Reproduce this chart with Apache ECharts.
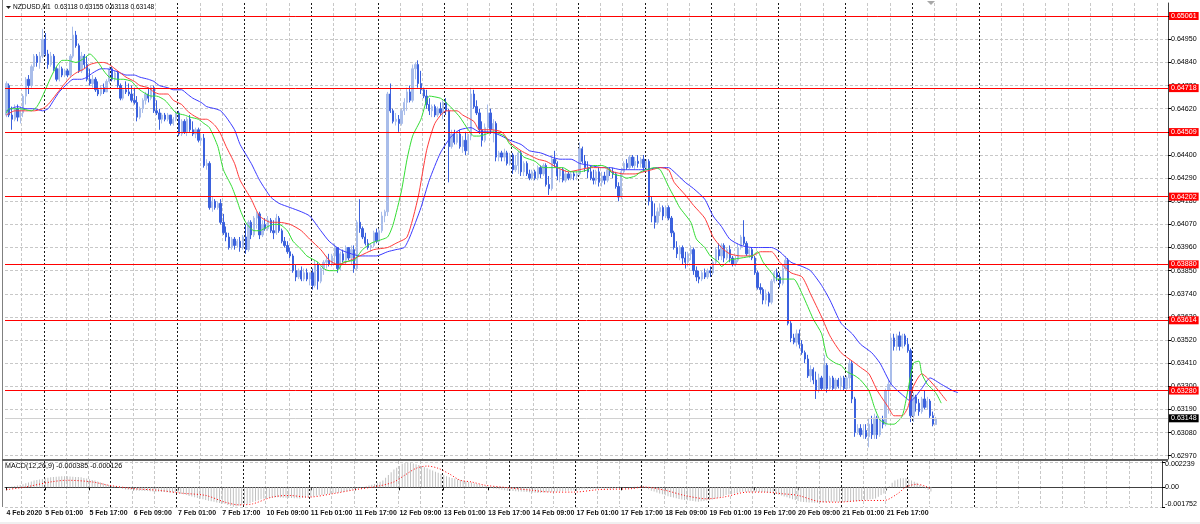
<!DOCTYPE html>
<html><head><meta charset="utf-8">
<script src="https://cdn.jsdelivr.net/npm/echarts@6/dist/echarts.min.js"></script>
<style>html,body{margin:0;padding:0;background:#fff}#c{width:1200px;height:524px}</style>
</head><body><div id="c"></div>
<script>
// ---- time axis ----
const slotCount = 418;
const tickLabels = ['4 Feb 2020','5 Feb 01:00','5 Feb 17:00','6 Feb 09:00','7 Feb 01:00','7 Feb 17:00','10 Feb 09:00','11 Feb 01:00','11 Feb 17:00','12 Feb 09:00','13 Feb 01:00','13 Feb 17:00','14 Feb 09:00','17 Feb 01:00','17 Feb 17:00','18 Feb 09:00','19 Feb 01:00','19 Feb 17:00','20 Feb 09:00','21 Feb 01:00','21 Feb 17:00'];
const tickLabelIndex = [0,14,30,46,62,78,94,110,126,142,158,174,190,206,222,238,254,270,286,302,318];
const separatorIndex = [14,38,62,86,110,134,158,182,206,230,254,278,302,326,350];

// ---- price axis ----
const priceTicks = [0.62970,0.63080,0.63190,0.63300,0.63410,0.63520,0.63630,0.63740,0.63850,0.63960,0.64070,0.64180,0.64290,0.64400,0.64510,0.64620,0.64730,0.64840,0.64950,0.65060];
const levelLines = [0.65061,0.64718,0.64509,0.64202,0.63880,0.63614,0.63280];
const lastPrice = 0.63148;
const trendLine = [[0,0.64265],[177,0.62954]];

// ---- candles (H1) ----
const opens = [
.6459,.6473,.6459,.6457,.6462,.6458,.6460,.6468,.6476,.6473,
.6482,.6487,.6484,.6487,.6495,.6488,.6483,.6487,.6481,.6476,
.6481,.6478,.6480,.6478,.6487,.6497,.6492,.6480,.6487,.6483,
.6476,.6474,.6476,.6471,.6469,.6472,.6470,.6475,.6481,.6476,
.6479,.6473,.6467,.6471,.6470,.6469,.6466,.6465,.6458,.6462,
.6466,.6469,.6467,.6472,.6461,.6460,.6457,.6459,.6457,.6459,
.6455,.6457,.6460,.6450,.6456,.6451,.6457,.6452,.6450,.6452,
.6447,.6448,.6435,.6436,.6415,.6418,.6415,.6417,.6408,.6403,
.6401,.6396,.6400,.6397,.6399,.6396,.6401,.6395,.6408,.6402,
.6410,.6412,.6402,.6407,.6405,.6409,.6404,.6403,.6410,.6404,
.6399,.6397,.6394,.6392,.6385,.6382,.6385,.6381,.6384,.6381,
.6384,.6378,.6388,.6380,.6386,.6389,.6390,.6388,.6392,.6396,
.6386,.6393,.6390,.6396,.6391,.6395,.6386,.6408,.6405,.6401,
.6398,.6396,.6397,.6403,.6399,.6404,.6411,.6413,.6469,.6461,
.6456,.6457,.6455,.6461,.6465,.6470,.6466,.6481,.6483,.6474,
.6471,.6468,.6464,.6461,.6463,.6459,.6462,.6460,.6465,.6461,
.6444,.6450,.6446,.6450,.6444,.6447,.6442,.6449,.6469,.6463,
.6460,.6452,.6447,.6453,.6460,.6452,.6455,.6439,.6441,.6439,
.6441,.6436,.6440,.6433,.6435,.6441,.6432,.6436,.6431,.6429,
.6432,.6429,.6434,.6431,.6435,.6426,.6424,.6438,.6436,.6430,
.6433,.6428,.6431,.6429,.6431,.6430,.6431,.6443,.6437,.6434,
.6432,.6429,.6428,.6432,.6427,.6430,.6428,.6433,.6432,.6431,
.6425,.6420,.6432,.6436,.6434,.6439,.6435,.6437,.6436,.6438,
.6434,.6437,.6418,.6411,.6408,.6413,.6415,.6411,.6415,.6410,
.6403,.6396,.6393,.6396,.6391,.6389,.6393,.6395,.6385,.6382,
.6381,.6384,.6382,.6385,.6384,.6389,.6395,.6392,.6397,.6391,
.6395,.6391,.6388,.6390,.6396,.6401,.6398,.6393,.6395,.6391,
.6384,.6377,.6376,.6371,.6374,.6370,.6380,.6384,.6382,.6379,
.6386,.6390,.6360,.6353,.6351,.6355,.6350,.6346,.6343,.6335,
.6338,.6333,.6328,.6334,.6329,.6340,.6329,.6334,.6329,.6333,
.6330,.6334,.6329,.6334,.6341,.6324,.6308,.6310,.6307,.6309,
.6306,.6312,.6307,.6315,.6307,.6314,.6312,.6328,.6331,.6353,
.6349,.6354,.6349,.6354,.6350,.6347,.6316,.6325,.6322,.6318,
.6324,.6320,.6323,.6316,.63118];
const highs = [
.6475,.6474,.6463,.6464,.6464,.6463,.6469,.6477,.6478,.6483,
.6488,.6488,.6489,.6500,.6498,.6490,.6489,.6488,.6482,.6483,
.6482,.6481,.6481,.6488,.6501,.6499,.6493,.6489,.6488,.6487,
.6481,.6478,.6477,.6475,.6473,.6474,.6476,.6482,.6482,.6480,
.6480,.6474,.6472,.6475,.6474,.6473,.6472,.6468,.6463,.6467,
.6470,.6472,.6473,.6473,.6466,.6462,.6460,.6460,.6460,.6459,
.6458,.6461,.6461,.6457,.6457,.6458,.6459,.6456,.6453,.6453,
.6449,.6450,.6438,.6437,.6420,.6419,.6418,.6419,.6412,.6406,
.6403,.6401,.6401,.6400,.6401,.6402,.6407,.6409,.6409,.6411,
.6413,.6413,.6409,.6410,.6411,.6410,.6409,.6412,.6411,.6405,
.6401,.6399,.6396,.6393,.6388,.6386,.6387,.6386,.6386,.6384,
.6386,.6390,.6389,.6387,.6390,.6392,.6393,.6393,.6398,.6396,
.6394,.6395,.6397,.6396,.6397,.6397,.6409,.6419,.6406,.6403,
.6400,.6398,.6404,.6405,.6405,.6413,.6414,.6470,.6474,.6462,
.6460,.6459,.6462,.6467,.6472,.6473,.6483,.6484,.6485,.6480,
.6472,.6471,.6467,.6464,.6464,.6463,.6465,.6466,.6467,.6462,
.6452,.6452,.6451,.6452,.6449,.6451,.6450,.6472,.6471,.6466,
.6462,.6456,.6455,.6464,.6462,.6457,.6456,.6442,.6442,.6443,
.6442,.6441,.6441,.6440,.6442,.6442,.6437,.6437,.6433,.6433,
.6433,.6435,.6435,.6436,.6436,.6430,.6440,.6442,.6437,.6434,
.6434,.6433,.6432,.6432,.6432,.6432,.6446,.6444,.6440,.6437,
.6435,.6433,.6433,.6434,.6432,.6432,.6434,.6434,.6434,.6432,
.6427,.6434,.6437,.6438,.6440,.6440,.6439,.6440,.6439,.6440,
.6438,.6438,.6420,.6417,.6415,.6417,.6416,.6416,.6416,.6411,
.6404,.6399,.6397,.6397,.6394,.6394,.6397,.6396,.6387,.6385,
.6385,.6386,.6386,.6387,.6390,.6396,.6398,.6398,.6398,.6396,
.6397,.6392,.6392,.6398,.6402,.6409,.6399,.6396,.6396,.6392,
.6385,.6379,.6377,.6376,.6375,.6381,.6385,.6386,.6384,.6388,
.6392,.6391,.6361,.6355,.6357,.6357,.6352,.6347,.6345,.6340,
.6339,.6337,.6336,.6335,.6345,.6341,.6335,.6335,.6334,.6334,
.6335,.6335,.6335,.6343,.6342,.6325,.6312,.6312,.6312,.6312,
.6315,.6316,.6317,.6316,.6315,.6316,.6329,.6333,.6355,.6355,
.6355,.6356,.6355,.6355,.6353,.6348,.6327,.6326,.6324,.6325,
.6328,.6325,.6324,.6318,.63155];
const lows = [
.6458,.6458,.6452,.6456,.6456,.6455,.6458,.6464,.6469,.6472,
.6480,.6482,.6481,.6486,.6487,.6481,.6482,.6480,.6475,.6475,
.6477,.6477,.6477,.6477,.6486,.6491,.6479,.6479,.6481,.6475,
.6473,.6472,.6470,.6468,.6468,.6469,.6470,.6474,.6475,.6475,
.6472,.6466,.6466,.6469,.6468,.6465,.6464,.6456,.6457,.6460,
.6464,.6465,.6466,.6460,.6459,.6452,.6455,.6456,.6456,.6454,
.6454,.6456,.6449,.6449,.6450,.6449,.6451,.6449,.6448,.6446,
.6445,.6434,.6433,.6414,.6413,.6414,.6414,.6407,.6402,.6399,
.6395,.6395,.6395,.6396,.6394,.6395,.6393,.6394,.6400,.6401,
.6405,.6400,.6401,.6404,.6404,.6403,.6400,.6402,.6403,.6398,
.6396,.6393,.6391,.6384,.6380,.6381,.6380,.6380,.6380,.6378,
.6376,.6377,.6376,.6379,.6383,.6386,.6387,.6387,.6388,.6384,
.6385,.6389,.6388,.6390,.6388,.6384,.6385,.6403,.6400,.6397,
.6395,.6394,.6396,.6398,.6398,.6403,.6408,.6411,.6460,.6455,
.6454,.6451,.6454,.6459,.6461,.6465,.6465,.6476,.6472,.6469,
.6467,.6462,.6459,.6458,.6458,.6458,.6459,.6457,.6459,.6427,
.6443,.6445,.6445,.6443,.6441,.6440,.6440,.6447,.6462,.6459,
.6450,.6444,.6446,.6451,.6450,.6446,.6437,.6437,.6437,.6437,
.6435,.6435,.6431,.6432,.6431,.6430,.6430,.6430,.6428,.6428,
.6428,.6428,.6429,.6430,.6425,.6421,.6423,.6434,.6428,.6427,
.6427,.6427,.6428,.6428,.6428,.6428,.6430,.6436,.6432,.6429,
.6428,.6426,.6426,.6425,.6425,.6426,.6427,.6430,.6429,.6424,
.6418,.6419,.6431,.6433,.6433,.6434,.6433,.6434,.6434,.6432,
.6433,.6416,.6408,.6405,.6407,.6411,.6409,.6410,.6409,.6401,
.6395,.6391,.6390,.6388,.6386,.6387,.6390,.6383,.6380,.6379,
.6380,.6381,.6381,.6382,.6383,.6388,.6390,.6390,.6389,.6390,
.6389,.6387,.6387,.6389,.6395,.6397,.6392,.6391,.6390,.6383,
.6376,.6374,.6369,.6369,.6368,.6369,.6379,.6380,.6377,.6378,
.6385,.6359,.6351,.6350,.6349,.6348,.6345,.6341,.6334,.6332,
.6331,.6324,.6327,.6328,.6328,.6327,.6328,.6328,.6328,.6329,
.6328,.6328,.6328,.6329,.6322,.6306,.6307,.6306,.6305,.6305,
.6301,.6305,.6305,.6305,.6306,.6310,.6311,.6317,.6330,.6347,
.6347,.6347,.6348,.6349,.6346,.6313,.6313,.6318,.6316,.6317,
.6319,.6319,.6315,.6311,.63118];
const closes = [
.6474,.6459,.6457,.6462,.6458,.6461,.6468,.6476,.6473,.6482,
.6487,.6484,.6487,.6495,.6488,.6483,.6487,.6481,.6476,.6481,
.6478,.6480,.6478,.6487,.6497,.6492,.6480,.6487,.6483,.6476,
.6474,.6476,.6471,.6469,.6472,.6470,.6475,.6481,.6476,.6479,
.6473,.6467,.6471,.6470,.6469,.6466,.6465,.6458,.6462,.6466,
.6469,.6467,.6472,.6461,.6460,.6457,.6459,.6457,.6459,.6455,
.6457,.6460,.6450,.6456,.6451,.6457,.6452,.6450,.6452,.6447,
.6448,.6435,.6436,.6415,.6418,.6415,.6417,.6408,.6403,.6401,
.6396,.6400,.6397,.6399,.6396,.6401,.6395,.6408,.6402,.6410,
.6412,.6402,.6407,.6405,.6409,.6404,.6403,.6410,.6404,.6399,
.6397,.6394,.6392,.6385,.6382,.6385,.6381,.6384,.6381,.6384,
.6378,.6388,.6380,.6386,.6389,.6390,.6388,.6392,.6396,.6386,
.6393,.6390,.6396,.6391,.6395,.6386,.6408,.6405,.6401,.6398,
.6396,.6397,.6403,.6399,.6404,.6411,.6413,.6469,.6461,.6456,
.6457,.6455,.6461,.6465,.6470,.6466,.6481,.6483,.6474,.6471,
.6468,.6464,.6461,.6463,.6459,.6462,.6460,.6465,.6461,.6444,
.6450,.6446,.6450,.6444,.6447,.6442,.6449,.6469,.6463,.6460,
.6452,.6447,.6453,.6460,.6452,.6455,.6439,.6441,.6439,.6441,
.6436,.6440,.6433,.6435,.6441,.6432,.6436,.6431,.6429,.6432,
.6429,.6434,.6431,.6435,.6426,.6424,.6438,.6436,.6430,.6433,
.6428,.6431,.6429,.6431,.6430,.6431,.6443,.6437,.6434,.6432,
.6429,.6428,.6432,.6427,.6430,.6428,.6433,.6432,.6431,.6425,
.6420,.6432,.6436,.6434,.6439,.6435,.6437,.6436,.6438,.6434,
.6437,.6418,.6411,.6408,.6413,.6415,.6411,.6415,.6410,.6403,
.6396,.6393,.6396,.6391,.6389,.6393,.6395,.6385,.6382,.6381,
.6384,.6382,.6385,.6384,.6389,.6395,.6392,.6397,.6391,.6395,
.6391,.6388,.6390,.6396,.6401,.6398,.6393,.6395,.6391,.6384,
.6377,.6376,.6371,.6374,.6370,.6380,.6384,.6382,.6379,.6386,
.6390,.6360,.6353,.6351,.6355,.6350,.6346,.6343,.6335,.6338,
.6333,.6328,.6334,.6329,.6340,.6329,.6334,.6329,.6333,.6330,
.6334,.6329,.6334,.6341,.6324,.6308,.6310,.6307,.6309,.6306,
.6312,.6307,.6315,.6307,.6314,.6312,.6328,.6331,.6353,.6349,
.6354,.6349,.6354,.6350,.6347,.6316,.6325,.6322,.6318,.6324,
.6320,.6323,.6316,.6312,.63148];

// ---- Alligator lines ([bar, price]) ----
const jawLine = [[0,.6461],[4,.6463],[7,.6462],[10,.6462],[13,.6461],[15,.6462],[17,.6466],[19,.6470],[22,.6474],[24,.6476],[27,.6476],[29,.6477],[31,.6479],[34,.6481],[36,.6481],[39,.6480],[41,.6479],[43,.6478],[46,.6478],[48,.6477],[51,.6476],[53,.6475],[55,.6473],[58,.6472],[60,.6471],[63,.6471],[65,.6469],[67,.6467],[70,.6465],[72,.6463],[75,.6462],[77,.6461],[79,.6458],[82,.6452],[84,.6445],[88,.6436],[91,.6428],[95,.6420],[98,.6417],[102,.6415],[106,.6413],[109,.6411],[113,.6404],[116,.6399],[120,.6395],[124,.6393],[127,.6392],[131,.6392],[133,.6392],[137,.6394],[140,.6395],[143,.6396],[145,.6401],[149,.6415],[152,.6428],[156,.6441],[160,.6449],[163,.6452],[167,.6453],[170,.6451],[174,.6451],[178,.6449],[181,.6447],[185,.6445],[188,.6442],[192,.6441],[196,.6439],[199,.6438],[203,.6438],[206,.6436],[210,.6435],[214,.6434],[217,.6434],[221,.6433],[224,.6433],[228,.6433],[230,.6433],[234,.6434],[238,.6434],[240,.6432],[244,.6427],[247,.6424],[251,.6419],[254,.6411],[257,.6406],[260,.6400],[264,.6397],[268,.6396],[271,.6396],[275,.6396],[278,.6394],[282,.6389],[286,.6387],[289,.6385],[293,.6378],[296,.6371],[300,.6360],[304,.6355],[307,.6350],[311,.6346],[314,.6341],[318,.6331],[322,.6326],[325,.6323],[329,.6329],[332,.6334],[336,.6331],[340,.6328],[342,.6327]];
const teethLine = [[0,.6459],[3,.6461],[6,.6461],[10,.6461],[13,.6462],[15,.6464],[18,.6469],[21,.6474],[23,.6477],[25,.6479],[28,.6481],[30,.6483],[33,.6484],[35,.6484],[37,.6483],[39,.6481],[41,.6479],[43,.6477],[46,.6475],[48,.6473],[51,.6472],[53,.6470],[55,.6469],[58,.6469],[60,.6466],[63,.6464],[65,.6461],[67,.6459],[70,.6457],[72,.6457],[75,.6454],[77,.6450],[79,.6444],[82,.6436],[84,.6428],[88,.6419],[91,.6411],[95,.6408],[98,.6408],[102,.6407],[106,.6404],[109,.6400],[113,.6395],[116,.6390],[119,.6388],[122,.6389],[127,.6392],[132,.6395],[137,.6396],[140,.6398],[144,.6401],[148,.6420],[151,.6442],[154,.6455],[158,.6461],[162,.6461],[164,.6459],[168,.6456],[170,.6452],[174,.6452],[178,.6451],[181,.6446],[185,.6442],[191,.6438],[194,.6437],[198,.6434],[202,.6432],[206,.6433],[210,.6434],[215,.6434],[218,.6432],[222,.6431],[226,.6431],[229,.6432],[232,.6433],[235,.6434],[238,.6433],[240,.6427],[244,.6421],[247,.6416],[251,.6410],[254,.6401],[257,.6396],[260,.6393],[264,.6392],[268,.6392],[271,.6394],[275,.6394],[278,.6389],[282,.6384],[286,.6382],[289,.6374],[293,.6363],[296,.6354],[300,.6346],[304,.6342],[307,.6339],[310,.6336],[313,.6328],[317,.6320],[319,.6316],[322,.6316],[324,.6320],[326,.6330],[329,.6336],[331,.6334],[335,.6328],[338,.6323]];
const lipsLine = [[0,.6460],[1,.6462],[5,.6462],[9,.6461],[11,.6463],[13,.6468],[16,.6477],[18,.6482],[20,.6485],[22,.6485],[25,.6484],[28,.6486],[30,.6488],[33,.6484],[35,.6480],[37,.6477],[40,.6476],[42,.6476],[45,.6475],[47,.6472],[49,.6470],[52,.6468],[54,.6468],[57,.6466],[59,.6463],[61,.6460],[64,.6459],[66,.6458],[69,.6457],[71,.6455],[73,.6453],[76,.6444],[78,.6433],[81,.6425],[83,.6418],[84,.6414],[86,.6408],[89,.6404],[91,.6404],[94,.6406],[96,.6407],[98,.6407],[101,.6404],[103,.6399],[106,.6395],[108,.6392],[112,.6389],[114,.6386],[116,.6385],[119,.6385],[121,.6389],[125,.6390],[128,.6395],[131,.6398],[133,.6399],[137,.6401],[139,.6407],[142,.6423],[144,.6438],[146,.6449],[149,.6457],[151,.6466],[152,.6468],[156,.6467],[158,.6465],[161,.6461],[163,.6458],[166,.6452],[168,.6449],[170,.6449],[175,.6451],[179,.6449],[181,.6445],[184,.6442],[186,.6439],[190,.6437],[193,.6434],[197,.6434],[200,.6434],[203,.6432],[206,.6432],[209,.6433],[211,.6435],[214,.6435],[216,.6434],[218,.6431],[221,.6430],[223,.6429],[226,.6430],[228,.6432],[230,.6433],[233,.6434],[235,.6433],[238,.6425],[240,.6420],[242,.6415],[246,.6408],[248,.6400],[251,.6396],[253,.6392],[256,.6389],[257,.6387],[260,.6390],[264,.6391],[268,.6392],[270,.6394],[272,.6389],[275,.6384],[277,.6381],[281,.6381],[283,.6381],[286,.6374],[288,.6368],[290,.6362],[293,.6355],[295,.6344],[298,.6341],[300,.6340],[302,.6337],[305,.6335],[307,.6333],[310,.6328],[312,.6320],[314,.6314],[317,.6312],[319,.6312],[322,.6316],[324,.6328],[326,.6341],[328,.6342],[329,.6336],[331,.6331],[334,.6327],[336,.6322]];

// ---- MACD(12,26,9) ----
const macdMain = [
0,.00004,.00008,.00012,.00016,.0002,.00028,.00036,.00044,.00052,
.0006,.00065,.0007,.00075,.0008,.00085,.0009,.00092,.00094,.00096,
.00098,.001,.00098,.00097,.00095,.00093,.00092,.0009,.00084,.00078,
.00072,.00066,.0006,.00052,.00044,.00036,.00028,.0002,.00013,.00007,
0,-.00007,-.00013,-.0002,-.00022,-.00024,-.00026,-.00028,-.0003,-.00031,
-.00033,-.00034,-.00036,-.00037,-.00039,-.0004,-.00041,-.00043,-.00044,-.00046,
-.00047,-.00049,-.0005,-.00057,-.00063,-.0007,-.00077,-.00083,-.0009,-.00096,
-.00102,-.00108,-.00114,-.0012,-.00125,-.0013,-.00135,-.0014,-.00145,-.0015,
-.00158,-.00166,-.00175,-.0017,-.00165,-.0016,-.00155,-.0015,-.0014,-.00132,
-.00124,-.00116,-.00108,-.001,-.00098,-.00096,-.00094,-.00092,-.0009,-.00091,
-.00093,-.00094,-.00095,-.00096,-.00098,-.00099,-.001,-.00096,-.00092,-.00088,
-.00084,-.0008,-.00076,-.00072,-.00068,-.00064,-.0006,-.00057,-.00053,-.0005,
-.00047,-.00043,-.0004,-.00034,-.00028,-.00022,-.00016,-.0001,-.00003,.00003,
.0001,.00017,.00023,.0003,.0004,.0005,.0006,.00085,.0011,.00135,
.0016,.00175,.0019,.0021,.00218,.002239,.00218,.00212,.00206,.002,
.0019,.0018,.0017,.0016,.0015,.0014,.0013,.0012,.0011,.001,
.0009,.00084,.00078,.00072,.00066,.0006,.00054,.00048,.00042,.00036,
.0003,.00023,.00017,.0001,.00003,-.00003,-.0001,-.00014,-.00018,-.00022,
-.00026,-.0003,-.00032,-.00033,-.00035,-.00037,-.00038,-.0004,-.00042,-.00044,
-.00046,-.00048,-.0005,-.00048,-.00046,-.00044,-.00042,-.0004,-.00038,-.00037,
-.00035,-.00033,-.00032,-.0003,-.00028,-.00026,-.00024,-.00022,-.0002,-.00018,
-.00017,-.00015,-.00013,-.00012,-.0001,-.0001,-.0001,-.0001,-.0001,-.0001,
-.00008,-.00006,-.00004,-.00002,0,.00002,.00003,.00005,.00007,.00008,
.0001,-.00003,-.00017,-.0003,-.00038,-.00047,-.00055,-.00063,-.00072,-.0008,
-.00086,-.00092,-.00098,-.00104,-.0011,-.00113,-.00117,-.0012,-.00123,-.00127,
-.0013,-.00126,-.00122,-.00118,-.00114,-.0011,-.00102,-.00094,-.00086,-.00078,
-.0007,-.00065,-.0006,-.00055,-.0005,-.00045,-.0004,-.0004,-.0004,-.0004,
-.0004,-.0004,-.00042,-.00043,-.00045,-.00047,-.00048,-.0005,-.00058,-.00066,
-.00074,-.00082,-.0009,-.00098,-.00106,-.00114,-.00122,-.0013,-.00132,-.00133,
-.00135,-.00137,-.00138,-.0014,-.00138,-.00136,-.00134,-.00132,-.0013,-.0013,
-.0013,-.0013,-.0013,-.0013,-.0013,-.00128,-.00126,-.00124,-.00122,-.0012,
-.00116,-.00112,-.00108,-.00104,-.001,-.00085,-.0007,-.00055,-.0002,.0001,
.0004,.0006,.0007,.0008,.0008,.0008,.0007,.0006,.0005,.0004,
.0002,.0001,-.0001,-.00025,-.000385];
const macdSignal = [[0,-.00021],[7,.00003],[16,.00048],[22,.00063],[31,.00048],[37,.00018],[46,-.00012],[55,-.00027],[63,-.00052],[72,-.00073],[79,-.00133],[84,-.00157],[89,-.00148],[96,-.00088],[102,-.00073],[109,-.00088],[118,-.00057],[126,-.00021],[134,.00009],[140,.00048],[144,.0011],[148,.0017],[152,.0019],[156,.0017],[160,.0012],[164,.00063],[168,.00048],[173,.00018],[181,-.00003],[190,-.00027],[197,-.00043],[205,-.00043],[214,-.00021],[226,-.00012],[230,.00003],[238,-.00027],[245,-.00073],[253,-.00103],[259,-.00088],[268,-.00043],[274,-.00043],[280,-.00057],[286,-.00073],[293,-.00124],[300,-.00133],[310,-.00118],[317,-.00118],[322,-.00057],[325,.00003],[329,.00027],[332,.00009],[334,-.000126]];
const macdTicks = [-0.001752, 0, 0.002239];

// ---- build ----
const categories = [];
for (let i = 0; i < slotCount; i++) categories.push('b' + i);
const labelAt = {};
tickLabelIndex.forEach((ix, k) => { labelAt[ix] = tickLabels[k]; });
const sepSet = new Set(separatorIndex);
const candleData = opens.map((o, i) => [o, closes[i], lows[i], highs[i]]);

const FONT = 'Liberation Sans';
const gridLineGray = { color: '#c8c8c8', width: 1, type: [3, 2] };
const gridLineDark = { color: '#1a1a1a', width: 1, type: [2, 2] };

function xAxes(gridIndex, withLabels) {
  return [{
    type: 'category', gridIndex, data: categories, boundaryGap: true, position: 'bottom',
    axisLine: { show: withLabels, lineStyle: { color: '#404040', width: 1 } },
    axisTick: { show: withLabels, alignWithLabel: true, length: 3, interval: (i) => labelAt[i] !== undefined, lineStyle: { color: '#000' } },
    axisLabel: { show: withLabels, interval: (i) => labelAt[i] !== undefined, formatter: (v, i) => labelAt[i] || '',
      align: 'left', margin: 3, fontSize: 7, fontWeight: 'bold', color: '#111', fontFamily: FONT },
    splitLine: { show: true, interval: (i) => (i % 8 === 6) && !sepSet.has(i), lineStyle: gridLineGray }
  }, {
    type: 'category', gridIndex, data: categories, boundaryGap: true, position: 'top',
    axisLine: { show: false }, axisTick: { show: false }, axisLabel: { show: false },
    splitLine: { show: true, interval: (i) => sepSet.has(i), lineStyle: gridLineDark }
  }];
}

const redLabel = { show: true, position: 'end', distance: 1, formatter: (p) => p.value.toFixed(5),
  backgroundColor: '#ff0000', color: '#fff', fontSize: 7.1, fontFamily: FONT, padding: [1, 2, 0, 2], lineHeight: 7 };

const markData = levelLines.map(v => ({ yAxis: v, lineStyle: { color: '#ff0000', width: 1, type: 'solid' }, label: redLabel }));
markData.unshift({ yAxis: lastPrice, lineStyle: { color: '#d0d0d0', width: 1, type: 'solid' },
  label: Object.assign({}, redLabel, { backgroundColor: '#000' }) });
markData.push([{ coord: trendLine[0], lineStyle: { color: '#ff0000', width: 1, type: 'solid' }, label: { show: false } }, { coord: trendLine[1] }]);

const option = {
  animation: false,
  backgroundColor: '#ffffff',
  grid: [
    { left: 5, top: 3, width: 1163, height: 456 },
    { left: 5, top: 461, width: 1163, height: 46 }
  ],
  xAxis: [...xAxes(0, false), ...xAxes(1, true)],
  yAxis: [{
    type: 'value', gridIndex: 0, position: 'right', min: 0.629545, max: 0.651227, scale: true,
    axisLine: { show: true, lineStyle: { color: '#404040' } },
    axisTick: { show: true, length: 3, customValues: priceTicks, lineStyle: { color: '#000' } },
    axisLabel: { show: true, customValues: priceTicks, formatter: (v) => v.toFixed(5), fontSize: 7.1, color: '#000', fontFamily: FONT, margin: 3 },
    splitLine: { show: true, lineStyle: gridLineGray }
  }, {
    type: 'value', gridIndex: 1, position: 'right', min: -0.001764, max: 0.002355,
    axisLine: { show: true, lineStyle: { color: '#404040' } },
    axisTick: { show: true, length: 3, customValues: macdTicks, lineStyle: { color: '#000' } },
    axisLabel: { show: true, customValues: macdTicks, fontSize: 7.1, color: '#000', fontFamily: FONT, margin: 3,
      formatter: (v) => v === 0 ? '0.00' : (v < 0 ? '{lo|' + v.toFixed(6) + '}' : '{hi|' + v.toFixed(6) + '}'),
      rich: { lo: { fontSize: 7.1, fontFamily: FONT, color: '#000', padding: [0, 0, 6, 0] },
              hi: { fontSize: 7.1, fontFamily: FONT, color: '#000', padding: [3, 0, 0, 0] } } },
    splitLine: { show: true, lineStyle: gridLineGray }
  }],
  series: [{
    type: 'candlestick', xAxisIndex: 0, yAxisIndex: 0, data: candleData, barWidth: 1.8,
    itemStyle: { color: '#a9bdea', color0: '#3b61dd', borderColor: '#a9bdea', borderColor0: '#3b61dd', borderWidth: 1 },
    markLine: { symbol: ['none', 'none'], silent: true, animation: false, precision: 5, data: markData }
  }, {
    type: 'line', xAxisIndex: 0, yAxisIndex: 0, data: jawLine, showSymbol: false, smooth: 0.2,
    lineStyle: { color: '#3a3aff', width: 1 }, silent: true, z: 3
  }, {
    type: 'line', xAxisIndex: 0, yAxisIndex: 0, data: teethLine, showSymbol: false, smooth: 0.2,
    lineStyle: { color: '#ff3a3a', width: 1 }, silent: true, z: 3
  }, {
    type: 'line', xAxisIndex: 0, yAxisIndex: 0, data: lipsLine, showSymbol: false, smooth: 0.2,
    lineStyle: { color: '#33dd33', width: 1 }, silent: true, z: 3
  }, {
    type: 'bar', xAxisIndex: 2, yAxisIndex: 1, data: macdMain, barWidth: 1,
    itemStyle: { color: '#c0c0c0' }, silent: true
  }, {
    type: 'line', xAxisIndex: 2, yAxisIndex: 1, data: macdSignal, showSymbol: false, smooth: 0.3,
    lineStyle: { color: '#ff0000', width: 1, type: [1, 2] }, silent: true
  }],
  graphic: [
    { type: 'line', shape: { x1: 2.5, y1: 0, x2: 2.5, y2: 507 }, style: { stroke: '#808080', lineWidth: 1 }, silent: true },
    { type: 'line', shape: { x1: 2, y1: 460, x2: 1168, y2: 460 }, style: { stroke: '#606060', lineWidth: 2 }, silent: true, z: 10 },
    { type: 'rect', shape: { x: 0, y: 522, width: 1200, height: 2 }, style: { fill: '#f0f0f0' }, silent: true },
    { type: 'polygon', shape: { points: [[6, 6], [11, 6], [8.5, 9]] }, style: { fill: '#202020' }, silent: true, z: 10 },
    { type: 'polygon', shape: { points: [[927, 1], [935, 1], [931, 5]] }, style: { fill: '#a8a8a8' }, silent: true, z: 10 },
    { type: 'text', left: 13, top: 4, style: { text: 'NZDUSD,H1  0.63118 0.63155 0.63118 0.63148', fill: '#000', font: '6.6px "Liberation Sans"' }, silent: true, z: 10 },
    { type: 'text', left: 5, top: 463, style: { text: 'MACD(12,26,9) -0.000385 -0.000126', fill: '#000', font: '7.1px "Liberation Sans"' }, silent: true, z: 10 }
  ]
};

const chart = echarts.init(document.getElementById('c'), null, { renderer: 'canvas', width: 1200, height: 524 });
chart.setOption(option);
</script>
</body></html>
